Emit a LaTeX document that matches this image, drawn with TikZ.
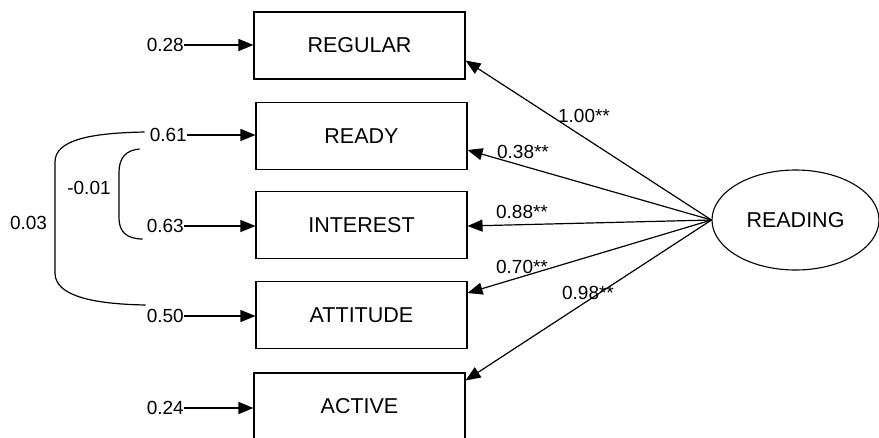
\documentclass[tikz,border=0pt]{standalone}
\usepackage{fontspec}
\setmainfont{Liberation Sans}
\usetikzlibrary{shapes, arrows.meta, positioning}
\tikzstyle{observada} = [draw, line width=1.1pt, rectangle, minimum width=211pt, minimum height=67pt, font=\fontsize{21.5}{24}\selectfont]
\tikzstyle{latente} = [draw, line width=1.1pt, ellipse, minimum width=167pt, minimum height=100pt, inner sep=0pt, font=\fontsize{21.5}{24}\selectfont]
\tikzstyle{error} = [inner sep=0pt, font=\fontsize{19}{22}\selectfont]
\tikzstyle{flecha} = [line width=1.2pt, -{Triangle[length=15pt,width=12pt]}]
\tikzstyle{cov} = [line width=1.2pt]

\begin{document}
\begin{tikzpicture}[x=1pt, y=-1pt]
	\clip (0,0) rectangle (879,437);
	\fill[white] (0,0) rectangle (879,437);
	% observed variables
	\node [observada] (regular) at (359.5,45.5) {REGULAR};
	\node [observada] (ready) at (361.5,136) {READY};
	\node [observada] (interest) at (361.5,225) {INTEREST};
	\node [observada] (attitude) at (361.5,315) {ATTITUDE};
	\node [observada] (active) at (359.5,406.5) {ACTIVE};
	\node [latente] (reading) at (795.5,220) {READING};
	% errors
	\node [error, anchor=east] (e28) at (184,45) {0.28};
	\node [error, anchor=east] (e61) at (187,135) {0.61};
	\node [error, anchor=east] (e63) at (184,226) {0.63};
	\node [error, anchor=east] (e50) at (184,316) {0.50};
	\node [error, anchor=east] (e24) at (184,408) {0.24};
	\draw [flecha] (e28.east) -- (e28.east -| regular.west);
	\draw [flecha] (e61.east) -- (e61.east -| ready.west);
	\draw [flecha] (e63.east) -- (e63.east -| interest.west);
	\draw [flecha] (e50.east) -- (e50.east -| attitude.west);
	\draw [flecha] (e24.east) -- (e24.east -| active.west);
	% covariances
	\draw [cov] ([shift={(-5pt,3pt)}]e61.west) .. controls (90,133) and (55,140) .. (55,162) -- (55,273) .. controls (55,295) and (90,304) .. ([shift={(-1pt,11pt)}]e50.west);
	\draw [cov] ([shift={(-10pt,-14pt)}]e61.west) .. controls (126,150) and (119,158) .. (119,172) -- (119,218) .. controls (119,232) and (127,239) .. ([shift={(-4pt,-13pt)}]e63.west);
	\node [error] (c03) at (28.5,223) {0.03};
	\node [error] (c01) at (89,188) {-0.01};
	% loadings
	\draw [flecha] (reading.west) -- ([yshift=-15pt]regular.east);
	\draw [flecha] (reading.west) -- ([yshift=-14pt]ready.east);
	\draw [flecha] (reading.west) -- ([yshift=-1pt]interest.east);
	\draw [flecha] (reading.west) -- ([yshift=22pt]attitude.east);
	\draw [flecha] (reading.west) -- ([yshift=26pt]active.east);
	\node [error] (l1) at (584,116) {1.00**};
	\node [error] (l2) at (523,152) {0.38**};
	\node [error] (l3) at (522,212) {0.88**};
	\node [error] (l4) at (522,267) {0.70**};
	\node [error] (l5) at (588,293) {0.98**};
\end{tikzpicture}
\end{document}
